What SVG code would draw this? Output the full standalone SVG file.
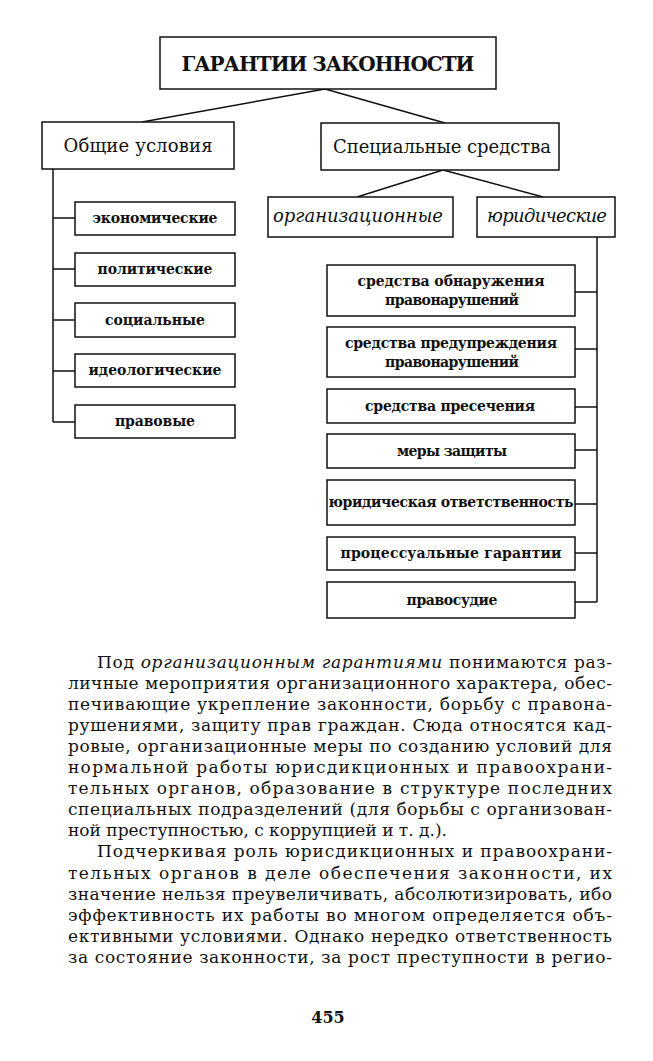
<svg xmlns="http://www.w3.org/2000/svg" width="653" height="1061" viewBox="0 0 653 1061">
<style>
.box{fill:#fff;stroke:#111;stroke-width:1.5}
.ln{fill:none;stroke:#111;stroke-width:1.5}
text{font-family:"DejaVu Serif","Liberation Serif",serif;fill:#111}
.t{font-size:20px;font-weight:bold;text-anchor:middle}
.h{font-size:18px;text-anchor:middle}
.i{font-size:18px;font-style:italic;text-anchor:middle}
.s{font-size:14px;font-weight:bold;text-anchor:middle}
.b{font-size:17px}
.pg{font-size:16px;font-weight:bold;text-anchor:middle}
</style>
<rect width="653" height="1061" fill="#fff"/>
<g id="connectors">
<path class="ln" d="M325 89 L142 122 M325 89 L445 123"/>
<path class="ln" d="M443 170 L357 197 M443 170 L543 197"/>
<path class="ln" d="M53 169 V422 M53 218 H75 M53 269 H75 M53 320 H75 M53 371 H75 M53 422 H75"/>
<path class="ln" d="M597 236 V602 M575 292 H597 M575 349 H597 M575 407 H597 M575 450 H597 M575 504 H597 M575 553 H597 M575 602 H597"/>
</g>
<g id="n-title"><rect class="box" x="160" y="37" width="336" height="52"/><text class="t" x="328" y="71" textLength="293">ГАРАНТИИ ЗАКОННОСТИ</text></g>
<g id="n-general"><rect class="box" x="42" y="122" width="192" height="47"/><text class="h" x="138" y="152" textLength="149">Общие условия</text></g>
<g id="n-special"><rect class="box" x="321" y="123" width="238" height="47"/><text class="h" x="442" y="153" textLength="218">Специальные средства</text></g>
<g id="n-org"><rect class="box" x="268" y="197" width="185" height="40"/><text class="i" x="358" y="222" textLength="170">организационные</text></g>
<g id="n-jur"><rect class="box" x="477" y="197" width="138" height="40"/><text class="i" x="547" y="222" textLength="120">юридические</text></g>
<g id="n-econ"><rect class="box" x="75" y="202" width="160" height="33"/><text class="s" x="155" y="223" textLength="125">экономические</text></g>
<g id="n-pol"><rect class="box" x="75" y="253" width="160" height="33"/><text class="s" x="155" y="274" textLength="115">политические</text></g>
<g id="n-soc"><rect class="box" x="75" y="303" width="160" height="34"/><text class="s" x="155" y="325" textLength="100">социальные</text></g>
<g id="n-ideo"><rect class="box" x="75" y="354" width="160" height="33"/><text class="s" x="155" y="375" textLength="133">идеологические</text></g>
<g id="n-prav"><rect class="box" x="75" y="405" width="160" height="33"/><text class="s" x="155" y="426" textLength="80">правовые</text></g>
<g id="n-detect"><rect class="box" x="327" y="265" width="248" height="51"/><text class="s" x="451" y="286" textLength="187">средства обнаружения</text><text class="s" x="452" y="305" textLength="134">правонарушений</text></g>
<g id="n-prevent"><rect class="box" x="327" y="327" width="248" height="50"/><text class="s" x="451" y="348" textLength="212">средства предупреждения</text><text class="s" x="452" y="367" textLength="134">правонарушений</text></g>
<g id="n-suppr"><rect class="box" x="327" y="389" width="248" height="34"/><text class="s" x="450" y="411" textLength="170">средства пресечения</text></g>
<g id="n-prot"><rect class="box" x="327" y="434" width="248" height="34"/><text class="s" x="452" y="456" textLength="110">меры защиты</text></g>
<g id="n-resp"><rect class="box" x="327" y="480" width="248" height="45"/><text class="s" x="451" y="507" textLength="245">юридическая ответственность</text></g>
<g id="n-proc"><rect class="box" x="327" y="537" width="248" height="33"/><text class="s" x="451" y="558" textLength="221">процессуальные гарантии</text></g>
<g id="n-just"><rect class="box" x="327" y="582" width="248" height="36"/><text class="s" x="452" y="605" textLength="91">правосудие</text></g>
<g id="body">
<text class="b" x="97" y="668" textLength="515">Под <tspan font-style="italic">организационным гарантиями</tspan> понимаются раз-</text>
<text class="b" x="68" y="689" textLength="544">личные мероприятия организационного характера, обес-</text>
<text class="b" x="68" y="710" textLength="544">печивающие укрепление законности, борьбу с правона-</text>
<text class="b" x="68" y="731" textLength="544">рушениями, защиту прав граждан. Сюда относятся кад-</text>
<text class="b" x="68" y="752" textLength="544">ровые, организационные меры по созданию условий для</text>
<text class="b" x="68" y="773" textLength="544">нормальной работы юрисдикционных и правоохрани-</text>
<text class="b" x="68" y="794" textLength="544">тельных органов, образование в структуре последних</text>
<text class="b" x="68" y="815" textLength="544">специальных подразделений (для борьбы с организован-</text>
<text class="b" x="68" y="836">ной преступностью, с коррупцией и т. д.).</text>
<text class="b" x="97" y="857" textLength="515">Подчеркивая роль юрисдикционных и правоохрани-</text>
<text class="b" x="68" y="879" textLength="544">тельных органов в деле обеспечения законности, их</text>
<text class="b" x="68" y="900" textLength="544">значение нельзя преувеличивать, абсолютизировать, ибо</text>
<text class="b" x="68" y="921" textLength="544">эффективность их работы во многом определяется объ-</text>
<text class="b" x="68" y="942" textLength="544">ективными условиями. Однако нередко ответственность</text>
<text class="b" x="68" y="963" textLength="544">за состояние законности, за рост преступности в регио-</text>
</g>
<text class="pg" x="328" y="1023">455</text>
</svg>
